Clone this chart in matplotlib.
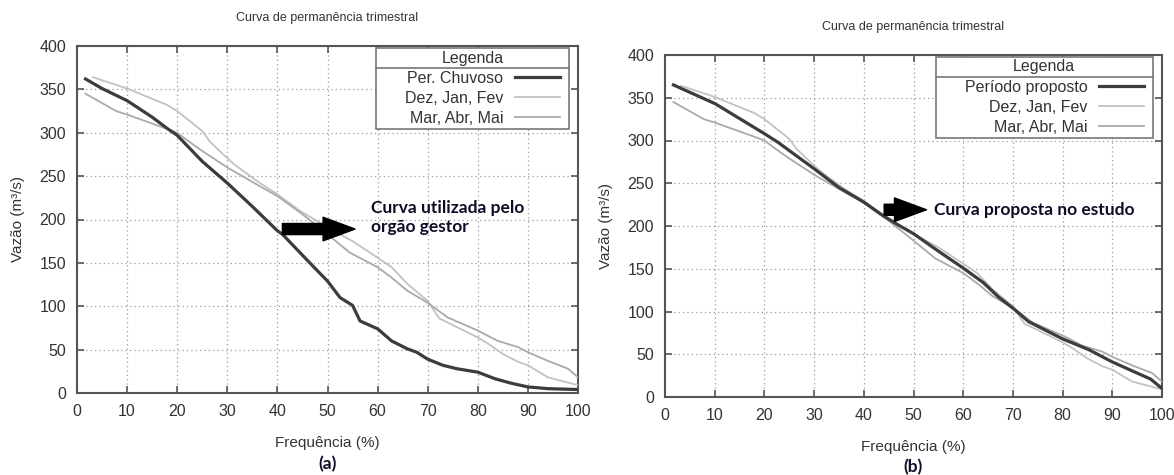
import numpy as np
import matplotlib
matplotlib.use("Agg")
import matplotlib.pyplot as plt
from matplotlib.lines import Line2D
from matplotlib.patches import Rectangle
from matplotlib.transforms import IdentityTransform

plt.rcParams['font.family'] = ['Liberation Sans', 'DejaVu Sans']

# data (frequency %, flow m3/s)
chuv_x = [1.7, 5, 10, 15, 18, 20, 22, 25, 30, 35, 40, 41, 46.8, 50, 52.5, 55, 56.5, 60, 62.8, 65.9,
          67.8, 70, 73, 75.8, 80, 83.4, 86.5, 90, 94, 100]
chuv_y = [362, 351, 337, 318, 305, 297, 285, 267, 242, 215, 187, 183, 148, 129, 110, 101, 83, 74, 60, 51,
          47, 39, 32, 28, 24, 16.5, 11.5, 7, 5, 4]

djf_x = [3.2, 10, 18, 20, 25, 26.5, 29.2, 31.5, 36, 40, 44.5, 50, 55, 60, 62.8, 65.9, 70, 72.3, 80,
         82, 85, 88, 90, 94, 100]
djf_y = [364, 351, 332, 325, 302, 290, 275, 263, 244, 229, 210, 191, 175, 156, 145, 126, 106, 86, 64,
         57, 45, 36, 32, 18, 9]

mam_x = [1.7, 7.8, 10, 17.7, 20, 22.3, 25, 30, 36, 40, 45, 50, 54.4, 60, 62.8, 65.9, 70, 74, 80,
         84, 88, 90, 94, 98, 100]
mam_y = [345, 325, 321, 305, 300, 290, 279, 260, 240, 227, 206, 183, 162, 145, 133, 118, 104, 87, 72,
         60, 53, 47, 37, 28, 18]

prop_x = [1.7, 10.1, 20, 22.7, 30, 35, 40, 43.4, 46.4, 50, 54.9, 60.2, 64, 67.1, 70.2, 73.2, 80,
          85.4, 90, 94.6, 97.7, 100]
prop_y = [365, 343, 308, 298, 267, 245, 228, 214, 203, 191, 171, 150, 134, 117, 103, 88, 68,
          55, 41, 29, 21, 10]

W, H = 1174, 475
fig = plt.figure(figsize=(W / 100, H / 100), dpi=100)
# axes boxes from pixel edges: left, bottom, right, top
ax1 = fig.add_axes([77 / W, 1 - 393 / H, (578 - 77) / W, (393 - 46) / H])
ax2 = fig.add_axes([665 / W, 1 - 397 / H, (1162 - 665) / W, (397 - 55) / H])

text_c = '#333333'
frame_c = '#777777'
px = IdentityTransform()
ann_font = dict(family=['Lato', 'DejaVu Sans'], fontweight='bold', fontsize=12.5, color='#0d0d26')

panels = [(ax1, chuv_x, chuv_y, 'Per. Chuvoso', '(a)'),
          (ax2, prop_x, prop_y, 'Período proposto', '(b)')]

for ax, main_x, main_y, main_lbl, tag in panels:
    ax.set_xlim(0, 100)
    ax.set_ylim(0, 400)
    ax.set_xticks(np.arange(0, 101, 10))
    ax.set_yticks(np.arange(0, 401, 50))
    ax.grid(True, linestyle=(0, (1, 2.5)), color='#9a9a9a', linewidth=0.9)
    ax.tick_params(direction='in', top=True, right=True, length=5, width=1.2,
                   color='#555555', labelsize=11.5, labelcolor=text_c, pad=8)
    for s in ax.spines.values():
        s.set_color('#555555')
        s.set_linewidth(1.5)
    ax.set_title('Curva de permanência trimestral', fontsize=9, color=text_c, pad=18)
    ax.set_xlabel('Frequência (%)', fontsize=11, color=text_c, labelpad=12)
    ax.set_ylabel('Vazão (m³/s)', fontsize=11, color=text_c, labelpad=10)

    l_main, = ax.plot(main_x, main_y, color='#3c3c3c', linewidth=2.3, zorder=4)
    l_djf, = ax.plot(djf_x, djf_y, color='#c2c2c2', linewidth=1.3, zorder=3)
    l_mam, = ax.plot(mam_x, mam_y, color='#aaaaaa', linewidth=1.3, zorder=3)

    leg = ax.legend([l_main, l_djf, l_mam], [main_lbl, 'Dez, Jan, Fev', 'Mar, Abr, Mai'],
                    loc='upper right', markerfirst=False, fontsize=11.5,
                    handlelength=2.8, frameon=False, borderpad=0, labelspacing=0.3,
                    borderaxespad=0, handletextpad=0.75)
    for t in leg.get_texts():
        t.set_color(text_c)

    ax.text(0.5, -0.205, tag, transform=ax.transAxes, ha='center', va='center', **ann_font)

# arrows and notes
arrow = dict(arrowstyle='simple,head_width=1.7,head_length=2.3,tail_width=0.8',
             color='black', shrinkA=0, shrinkB=0)
ax1.annotate('', xy=(55.5, 189), xytext=(41, 189), arrowprops=arrow, zorder=6)
ax1.text(58.6, 202, 'Curva utilizada pelo\norgão gestor', va='center', ha='left',
         linespacing=1.25, **ann_font)
ax2.annotate('', xy=(52.6, 219), xytext=(44.1, 219), arrowprops=arrow, zorder=6)
ax2.text(54.1, 219, 'Curva proposta no estudo', va='center', ha='left', **ann_font)

# gnuplot style legend box: frame, centred title and separator drawn in pixels
title_h, gap_r, gap_t, pad_l, pad_r = 20, 9, 2, 29, 9
for ax in (ax1, ax2):
    pos = ax.get_window_extent()
    x1 = pos.x1 - gap_r
    y1 = pos.y1 - gap_t
    leg = ax.get_legend()
    leg.set_bbox_to_anchor((x1 - pad_r, y1 - title_h - 3), transform=px)
    leg.set_zorder(9)

fig.canvas.draw()
r = fig.canvas.get_renderer()
for ax in (ax1, ax2):
    pos = ax.get_window_extent()
    x1 = pos.x1 - gap_r
    y1 = pos.y1 - gap_t
    lb = ax.get_legend().get_window_extent(r)
    box_w = lb.width + pad_l + pad_r
    box_h = y1 - lb.y0 + 3
    ax.add_patch(Rectangle((x1 - box_w, y1 - box_h), box_w, box_h, transform=px,
                           facecolor='white', edgecolor=frame_c, linewidth=1.2,
                           zorder=7, clip_on=False))
    ax.add_line(Line2D([x1 - box_w, x1], [y1 - title_h, y1 - title_h], transform=px,
                       color=frame_c, linewidth=1.2, zorder=8, clip_on=False))
    ax.text(x1 - box_w / 2, y1 - title_h / 2, 'Legenda', transform=px, ha='center',
            va='center', fontsize=11.5, color=text_c, zorder=8)

fig.savefig('out.png', dpi=100)
